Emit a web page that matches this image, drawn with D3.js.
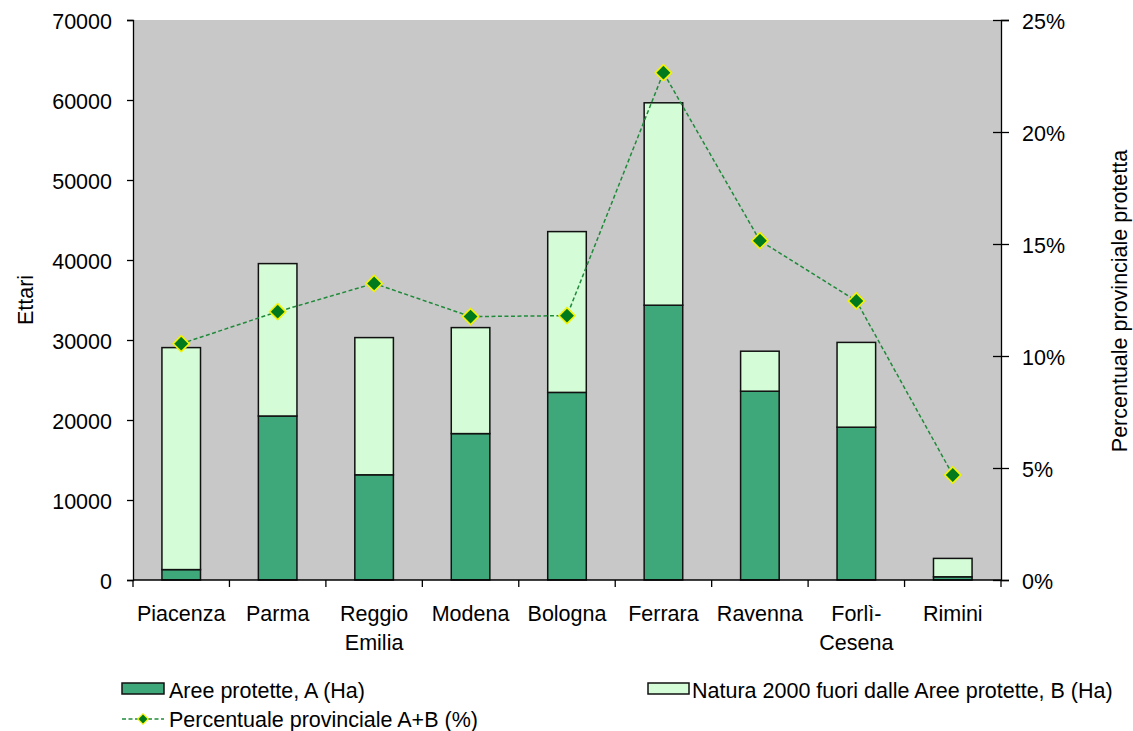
<!DOCTYPE html>
<html>
<head>
<meta charset="utf-8">
<script src="https://cdn.jsdelivr.net/npm/d3@7/dist/d3.min.js"></script>
<style>
  html, body { margin: 0; padding: 0; background: #fff; }
  svg { display: block; font-family: "Liberation Sans", Arial, sans-serif; }
</style>
</head>
<body>
<svg id="chart" width="1133" height="731"></svg>
<script>
// Province dell'Emilia-Romagna
const categories = ["Piacenza", "Parma", "Reggio Emilia", "Modena", "Bologna", "Ferrara", "Ravenna", "Forlì-Cesena", "Rimini"];
const categoryLines = [["Piacenza"], ["Parma"], ["Reggio", "Emilia"], ["Modena"], ["Bologna"], ["Ferrara"], ["Ravenna"], ["Forlì-", "Cesena"], ["Rimini"]];
// Aree protette, A (Ha)
const areeProtette = [1300, 20500, 13150, 18300, 23450, 34350, 23600, 19100, 400];
// Natura 2000 fuori dalle Aree protette, B (Ha)
const natura2000 = [27750, 19050, 17150, 13250, 20100, 25300, 5000, 10600, 2300];
// Percentuale provinciale A+B (%)
const percentuale = [10.55, 11.98, 13.24, 11.76, 11.8, 22.65, 15.15, 12.46, 4.69];
const leftTicks = [0, 10000, 20000, 30000, 40000, 50000, 60000, 70000];
const rightTicks = [0, 5, 10, 15, 20, 25];

const svg = d3.select("#chart");
const plot = { left: 133, right: 1001, top: 20, bottom: 580 };
const fontSize = 21.5;

const x = d3.scaleBand().domain(categories).range([plot.left, plot.right]).paddingInner(0.6).paddingOuter(0.3);
const xBand = d3.scaleBand().domain(categories).range([plot.left, plot.right]);
const y = d3.scaleLinear().domain([0, 70000]).range([plot.bottom, plot.top]);
const y2 = d3.scaleLinear().domain([0, 25]).range([plot.bottom, plot.top]);

const rows = categories.map((c, i) => ({ cat: c, A: areeProtette[i], B: natura2000[i], p: percentuale[i] }));

// plot background
svg.append("rect")
  .attr("x", plot.left).attr("y", plot.top)
  .attr("width", plot.right - plot.left).attr("height", plot.bottom - plot.top)
  .attr("fill", "#c8c8c8");

// stacked bars
const stack = d3.stack().keys(["A", "B"])(rows);
const colors = { A: "#3ea87b", B: "#d4fcd6" };
stack.forEach(layer => {
  svg.append("g").selectAll("rect").data(layer).join("rect")
    .attr("x", d => x(d.data.cat))
    .attr("width", x.bandwidth())
    .attr("y", d => y(d[1]))
    .attr("height", d => y(d[0]) - y(d[1]))
    .attr("fill", colors[layer.key])
    .attr("stroke", "#111")
    .attr("stroke-width", 1.5);
});

// axes
const leftAxis = svg.append("g").attr("transform", `translate(${plot.left},0)`)
  .call(d3.axisLeft(y).tickValues(leftTicks).tickSize(6).tickPadding(15).tickFormat(d3.format("d")));
const rightAxis = svg.append("g").attr("transform", `translate(${plot.right},0)`)
  .call(d3.axisRight(y2).tickValues(rightTicks).tickSize(8).tickPadding(13).tickFormat(d => d + "%"));
rightAxis.selectAll(".tick line").attr("x1", -8);
const bottomAxis = svg.append("g").attr("transform", `translate(0,${plot.bottom})`)
  .call(d3.axisBottom(xBand).tickSize(0).tickFormat(""));
[leftAxis, rightAxis, bottomAxis].forEach(a => {
  a.select(".domain").attr("stroke", "#000").attr("stroke-width", 1.3);
  a.selectAll(".tick line").attr("stroke", "#000").attr("stroke-width", 1.3);
  a.attr("font-family", null).attr("font-size", fontSize);
  a.selectAll(".tick text").attr("fill", "#000").attr("dy", "0.4em");
});
bottomAxis.select(".domain").attr("d", `M${plot.left},0H${plot.right}`);

// category separators on the x axis
const boundaries = categories.map(c => xBand(c)).concat([plot.right]);
svg.append("g").selectAll("line").data(boundaries).join("line")
  .attr("x1", d => d).attr("x2", d => d)
  .attr("y1", plot.bottom).attr("y2", plot.bottom + 7)
  .attr("stroke", "#000").attr("stroke-width", 1.3);

// category labels
const catLabels = svg.append("g");
rows.forEach((r, i) => {
  const cx = xBand(r.cat) + xBand.bandwidth() / 2;
  const t = catLabels.append("text")
    .attr("transform", `translate(${cx},${plot.bottom + 41})`)
    .attr("text-anchor", "middle").attr("font-size", fontSize);
  categoryLines[i].forEach((line, j) => {
    t.append("tspan").attr("x", 0).attr("y", j * 29).text(line);
  });
});

// axis titles
svg.append("text")
  .attr("transform", `translate(33,${(plot.top + plot.bottom) / 2}) rotate(-90)`)
  .attr("text-anchor", "middle").attr("font-size", fontSize).text("Ettari");
svg.append("text")
  .attr("transform", `translate(1127,${(plot.top + plot.bottom) / 2 + 1}) rotate(-90)`)
  .attr("text-anchor", "middle").attr("font-size", fontSize).text("Percentuale provinciale protetta");

// percentage line
const cxOf = d => xBand(d.cat) + xBand.bandwidth() / 2;
svg.append("path")
  .datum(rows)
  .attr("fill", "none")
  .attr("stroke", "#1f8a3a")
  .attr("stroke-width", 1.5)
  .attr("stroke-dasharray", "4,2.5")
  .attr("d", d3.line().x(cxOf).y(d => y2(d.p)));

svg.append("g").selectAll("path").data(rows).join("path")
  .attr("transform", d => `translate(${cxOf(d)},${y2(d.p)}) rotate(45)`)
  .attr("d", d3.symbol().type(d3.symbolSquare).size(130))
  .attr("fill", "#007a1c")
  .attr("stroke", "#f4f400")
  .attr("stroke-width", 1.6);

// legend
const legend = svg.append("g");
function legendText(xp, yp, label) {
  legend.append("text")
    .attr("x", xp).attr("y", yp)
    .attr("dy", "0.36em")
    .attr("font-size", fontSize).text(label);
}
legend.append("rect").attr("x", 122).attr("y", 683).attr("width", 42).attr("height", 11)
  .attr("fill", colors.A).attr("stroke", "#111").attr("stroke-width", 1.5);
legendText(169, 690, "Aree protette, A (Ha)");
legend.append("rect").attr("x", 648).attr("y", 683).attr("width", 41).attr("height", 11)
  .attr("fill", colors.B).attr("stroke", "#111").attr("stroke-width", 1.5);
legendText(692, 690, "Natura 2000 fuori dalle Aree protette, B (Ha)");
legend.append("line").attr("x1", 122).attr("x2", 164).attr("y1", 719).attr("y2", 719)
  .attr("stroke", "#1f8a3a").attr("stroke-width", 1.5).attr("stroke-dasharray", "4,2.5");
legend.append("path").attr("transform", "translate(143,719) rotate(45)")
  .attr("d", d3.symbol().type(d3.symbolSquare).size(55))
  .attr("fill", "#007a1c").attr("stroke", "#f4f400").attr("stroke-width", 1.2);
legendText(169, 719, "Percentuale provinciale A+B (%)");
</script>
</body>
</html>
